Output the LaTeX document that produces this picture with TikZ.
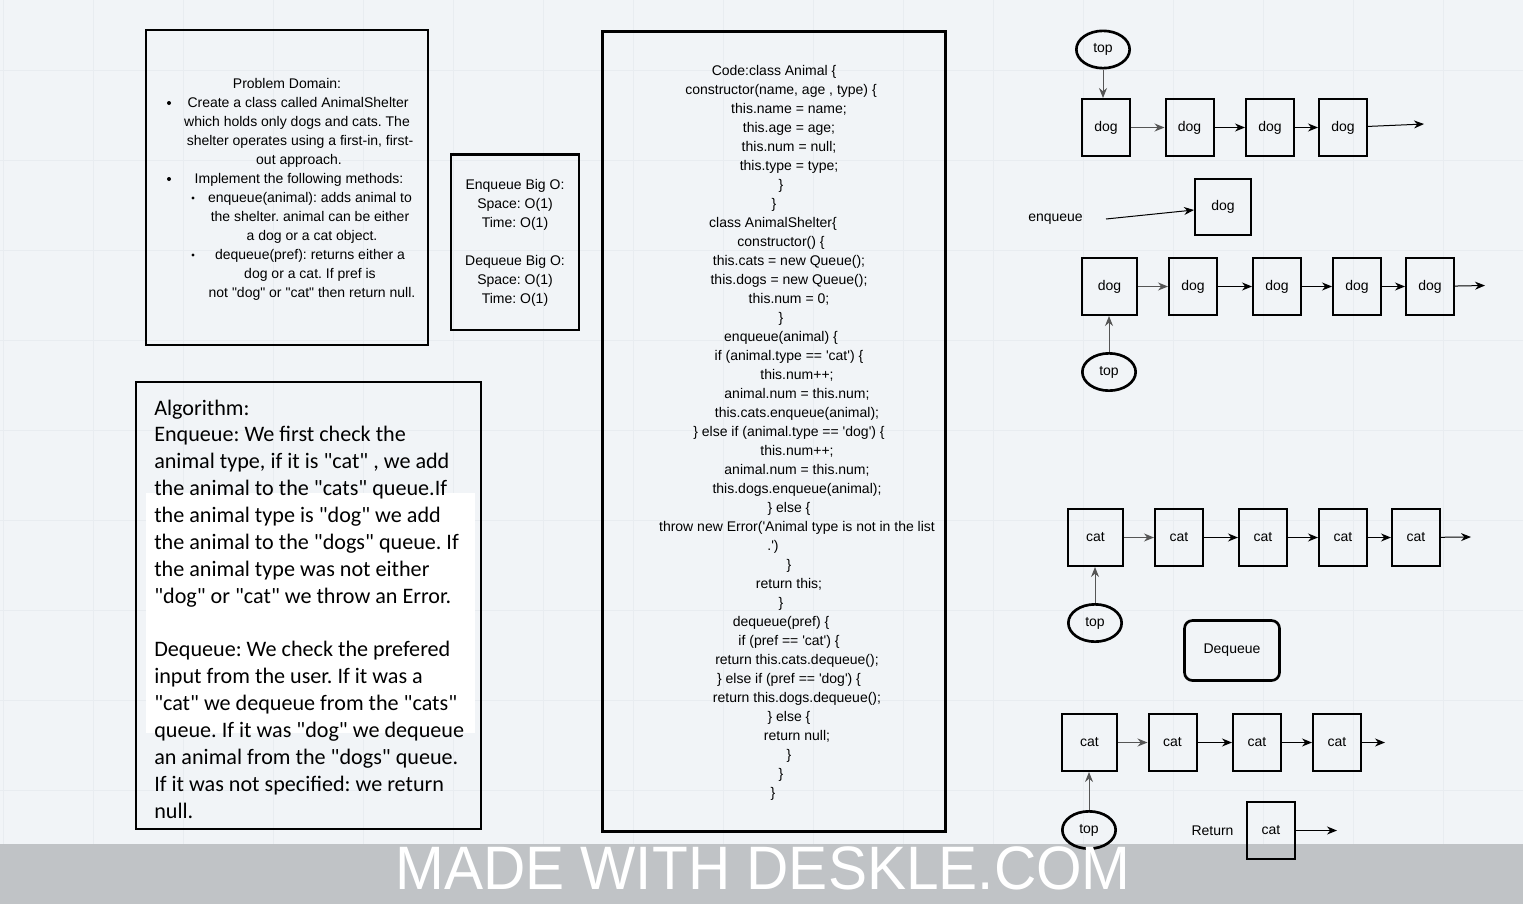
\documentclass[tikz,border=0pt]{standalone}
\usepackage{graphicx}
\usepackage{fontspec}
\newfontfamily\arialfont{Liberation Sans}
\newfontfamily\calibrifont{Carlito}
\usetikzlibrary{shapes.geometric,arrows.meta}
\definecolor{canvas}{RGB}{241,244,247}
\definecolor{gridline}{RGB}{232,236,240}
\definecolor{banner}{RGB}{192,195,198}
\definecolor{linkgray}{RGB}{85,85,85}
\frenchspacing

\begin{document}
\begin{tikzpicture}[x=0.75pt,y=0.75pt,yscale=-1,xscale=1,
  txt/.style={font=\arialfont\fontsize{10.5}{14}\selectfont, inner sep=0pt},
  line/.style={txt, anchor=base},
  algo/.style={font=\calibrifont\fontsize{16.6}{18}\selectfont, inner sep=0pt, anchor=base west},
  panel/.style={draw, line width=2pt},
  cell/.style={txt, draw, line width=1.5pt, minimum width=36pt, minimum height=42.75pt},
  wide/.style={cell, minimum width=41.25pt},
  topnode/.style={txt, draw, ellipse, line width=2pt, minimum width=40pt, minimum height=28pt},
  link/.style={-{Stealth[length=7.5pt,width=6pt]}, line width=0.75pt},
  toplink/.style={link, draw=linkgray},
  bul/.style={circle, fill, inner sep=0pt, minimum size=3pt}
]
\useasboundingbox (0,0) rectangle (1523,904);
\fill[canvas] (0,0) rectangle (1523,904);

% grid
\foreach \gx in {3,93,...,1443} \draw[gridline, line width=0.75pt] (\gx,0) -- (\gx,844);
\foreach \gy in {70,160,...,790} \draw[gridline, line width=0.75pt] (0,\gy) -- (1523,\gy);

% banner
\fill[banner] (0,844) rectangle (1523,904);

% Problem domain
\draw[panel] (146,30) rectangle (428,345);
\foreach \n/\cx/\t in {0/287/{Problem Domain:}, 1/298/{Create a class called AnimalShelter},
  2/297/{which holds only dogs and cats. The}, 3/300/{shelter operates using a first-in, first-},
  4/299/{out approach.}, 5/299/{Implement the following methods:},
  6/310/{enqueue(animal): adds animal to}, 7/310/{the shelter. animal can be either},
  8/312/{a dog or a cat object.}, 9/310/{dequeue(pref): returns either a},
  10/310/{dog or a cat. If pref is}, 11/312/{not "dog" or "cat" then return null.}}
  \node[line] (pd\n) at (\cx,88+19*\n) {\t};
\node[bul] (pdb1) at (169,103) {};
\node[bul] (pdb2) at (169,179) {};
\node[bul, minimum size=2.4pt] (pdb3) at (193,198) {};
\node[bul, minimum size=2.4pt] (pdb4) at (193,255) {};

% Big O
\draw[panel] (451,154.5) rectangle (579,330);
\foreach \n/\t in {0/{Enqueue Big O:}, 1/{Space: O(1)}, 2/{Time: O(1)},
  4/{Dequeue Big O:}, 5/{Space: O(1)}, 6/{Time: O(1)}}
  \node[line] (bo\n) at (515,189+19*\n) {\t};

% Algorithm
\fill[white] (146,493) rectangle (475,733);
\draw[panel] (136,382) rectangle (481,829);
\foreach \n/\t in {0/{Algorithm:}, 1/{Enqueue: We first check the},
  2/{animal type, if it is "cat" , we add}, 3/{the animal to the "cats" queue.If},
  4/{the animal type is "dog" we add}, 5/{the animal to the "dogs" queue. If},
  6/{the animal type was not either}, 7/{"dog" or "cat" we throw an Error.},
  9/{Dequeue: We check the prefered}, 10/{input from the user. If it was a},
  11/{"cat" we dequeue from the "cats"}, 12/{queue. If it was "dog" we dequeue},
  13/{an animal from the "dogs" queue.}, 14/{If it was not specified: we return},
  15/{null.}}
  \node[algo] (al\n) at (154,415+26.87*\n) {\t};

% Code
\draw[panel] (602.5,31.5) rectangle (945.5,831.5);
\foreach \n/\cx/\t in {0/774/{Code:class Animal \{}, 1/781/{constructor(name, age , type) \{},
  2/789/{this.name = name;}, 3/789/{this.age = age;}, 4/789/{this.num = null;},
  5/789/{this.type = type;}, 6/781/{\}}, 7/774/{\}}, 8/773/{class AnimalShelter\{},
  9/781/{constructor() \{}, 10/789/{this.cats = new Queue();}, 11/789/{this.dogs = new Queue();},
  12/789/{this.num = 0;}, 13/781/{\}}, 14/781/{enqueue(animal) \{},
  15/789/{if (animal.type == 'cat') \{}, 16/797/{this.num++;}, 17/797/{animal.num = this.num;},
  18/797/{this.cats.enqueue(animal);}, 19/789/{\} else if (animal.type == 'dog') \{},
  20/797/{this.num++;}, 21/797/{animal.num = this.num;}, 22/797/{this.dogs.enqueue(animal);},
  23/789/{\} else \{}, 24/797/{throw new Error('Animal type is not in the list}, 25/773/{.')},
  26/789/{\}}, 27/789/{return this;}, 28/781/{\}}, 29/781/{dequeue(pref) \{},
  30/789/{if (pref == 'cat') \{}, 31/797/{return this.cats.dequeue();},
  32/789/{\} else if (pref == 'dog') \{}, 33/797/{return this.dogs.dequeue();},
  34/789/{\} else \{}, 35/797/{return null;}, 36/789/{\}}, 37/781/{\}}, 38/773/{\}}}
  \node[line] (code\n) at (\cx,75+19*\n) {\t};

% dog queue before enqueue
\node[topnode] (top1) at (1103,49.5) {top};
\node[cell] (dog11) at (1106,127.5) {dog};
\node[cell] (dog12) at (1189.5,127.5) {dog};
\node[cell] (dog13) at (1270,127.5) {dog};
\node[cell] (dog14) at (1343,127.5) {dog};
\coordinate (end1) at (1424,124);
\draw[toplink] (top1.south) -- (top1.south |- dog11.north);
\draw[toplink] (dog11) -- (dog12);
\draw[link] (dog12) -- (dog13);
\draw[link] (dog13) -- (dog14);
\draw[link] (dog14) -- (end1);

% enqueue
\node[txt] (enqlabel) at (1055.5,219) {enqueue};
\node[cell, minimum width=42pt, minimum height=42pt] (dogE) at (1223,207) {dog};
\coordinate (enqstart) at (1106,219);
\draw[link] (enqstart) -- (dogE);

% dog queue after enqueue
\node[wide] (dog21) at (1109.5,286.5) {dog};
\node[cell] (dog22) at (1193,286.5) {dog};
\node[cell] (dog23) at (1277,286.5) {dog};
\node[cell] (dog24) at (1357,286.5) {dog};
\node[cell] (dog25) at (1430,286.5) {dog};
\node[topnode] (top2) at (1109,372) {top};
\coordinate (end2) at (1485,285.5);
\draw[toplink] (top2.north) -- (top2.north |- dog21.south);
\draw[toplink] (dog21) -- (dog22);
\draw[link] (dog22) -- (dog23);
\draw[link] (dog23) -- (dog24);
\draw[link] (dog24) -- (dog25);
\draw[link] (dog25) -- (end2);

% cat queue before dequeue
\node[wide] (cat31) at (1095.5,537.5) {cat};
\node[cell] (cat32) at (1179,537.5) {cat};
\node[cell] (cat33) at (1263,537.5) {cat};
\node[cell] (cat34) at (1343,537.5) {cat};
\node[cell] (cat35) at (1416,537.5) {cat};
\node[topnode] (top3) at (1095,623) {top};
\coordinate (end3) at (1471,537);
\draw[toplink] (top3.north) -- (top3.north |- cat31.south);
\draw[toplink] (cat31) -- (cat32);
\draw[link] (cat32) -- (cat33);
\draw[link] (cat33) -- (cat34);
\draw[link] (cat34) -- (cat35);
\draw[link] (cat35) -- (end3);

% dequeue
\node[txt, draw, line width=2pt, rounded corners=6pt, minimum width=71.25pt, minimum height=45pt] (deq) at (1232,650.5) {Dequeue};

% cat queue after dequeue
\node[wide] (cat41) at (1089.5,742.5) {cat};
\node[cell] (cat42) at (1172.5,742.5) {cat};
\node[cell] (cat43) at (1257,742.5) {cat};
\node[cell] (cat44) at (1337,742.5) {cat};
\node[topnode] (top4) at (1089,830) {top};
\coordinate (end4) at (1385,742.5);
\draw[toplink] (top4.north) -- (top4.north |- cat41.south);
\draw[toplink] (cat41) -- (cat42);
\draw[link] (cat42) -- (cat43);
\draw[link] (cat43) -- (cat44);
\draw[link] (cat44) -- (end4);

% returned cat
\node[txt] (retlabel) at (1212.5,831) {Return};
\node[cell] (retcat) at (1271,830.5) {cat};
\coordinate (end5) at (1337,830.5);
\draw[link] (retcat) -- (end5);

% watermark
\node[inner sep=0pt, text=white, font=\arialfont\fontsize{46}{50}\selectfont] (mark) at (763,868) {\scalebox{0.955}[1]{MADE WITH DESKLE.COM}};

\end{tikzpicture}
\end{document}
